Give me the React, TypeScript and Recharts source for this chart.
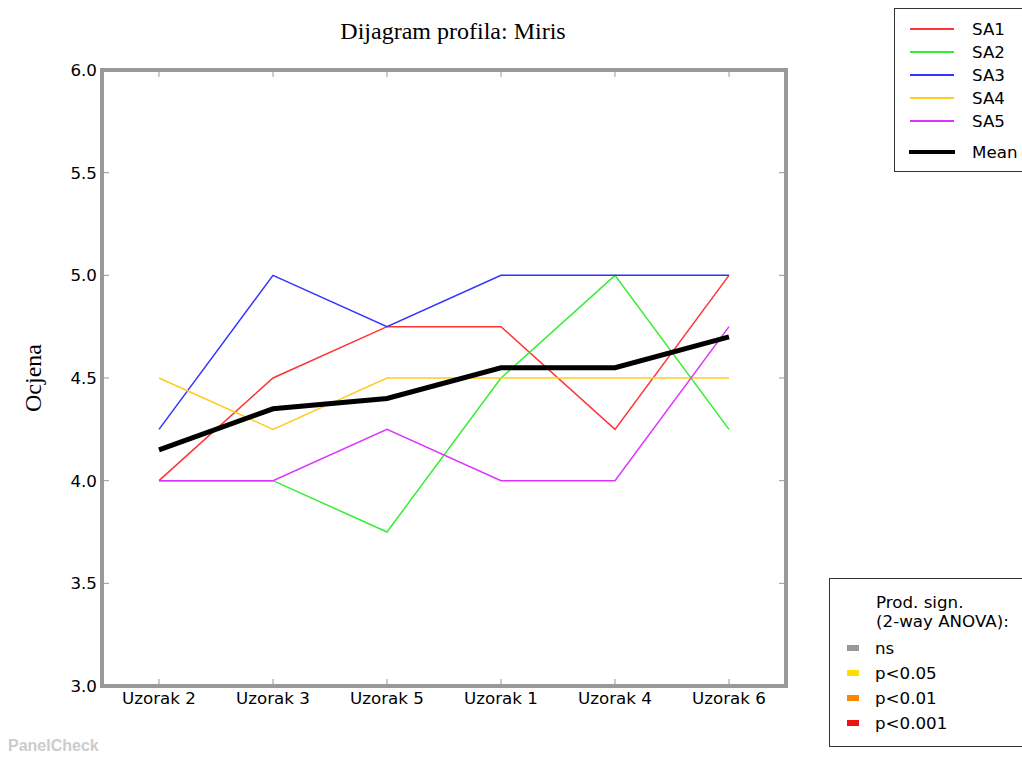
import { LineChart, Line, XAxis, YAxis } from 'recharts'

const categories = ['Uzorak 2', 'Uzorak 3', 'Uzorak 5', 'Uzorak 1', 'Uzorak 4', 'Uzorak 6']
const sa1 = [4.0, 4.5, 4.75, 4.75, 4.25, 5.0]
const sa2 = [4.0, 4.0, 3.75, 4.5, 5.0, 4.25]
const sa3 = [4.25, 5.0, 4.75, 5.0, 5.0, 5.0]
const sa4 = [4.5, 4.25, 4.5, 4.5, 4.5, 4.5]
const sa5 = [4.0, 4.0, 4.25, 4.0, 4.0, 4.75]
const mean = [4.15, 4.35, 4.4, 4.55, 4.55, 4.7]
const yTicks = [3.0, 3.5, 4.0, 4.5, 5.0, 5.5, 6.0]

const seriesNames = ['SA1', 'SA2', 'SA3', 'SA4', 'SA5']
const seriesColors = ['#ff3333', '#33ee33', '#3333ff', '#ffcc22', '#dd33ff']
const sigLabels = ['ns', 'p<0.05', 'p<0.01', 'p<0.001']
const sigColors = ['#999999', '#ffdd00', '#ff8800', '#ee1111']

const data = categories.map((c, i) => ({
  name: c,
  SA1: sa1[i],
  SA2: sa2[i],
  SA3: sa3[i],
  SA4: sa4[i],
  SA5: sa5[i],
  Mean: mean[i],
}))

const FRAME = '#999999'
const sans = '"DejaVu Sans", sans-serif'
const serif = '"Liberation Serif", "Times New Roman", serif'
const PAD = 57
const frameLine = { stroke: FRAME, strokeWidth: 4, strokeLinecap: 'square' as const }

const BottomTick = (props: any) => {
  const { x, y, payload } = props
  return (
    <g>
      <line x1={x} x2={x} y1={y - 2} y2={y - 7} stroke={FRAME} strokeWidth={1} />
      <text x={x} y={y + 18} textAnchor="middle" fontSize={16.7} fontFamily={sans} fill="#000">
        {payload.value}
      </text>
    </g>
  )
}

const TopTick = (props: any) => {
  const { x, y } = props
  return <line x1={x} x2={x} y1={y + 2} y2={y + 7} stroke={FRAME} strokeWidth={1} />
}

const LeftTick = (props: any) => {
  const { x, y, payload } = props
  return (
    <g>
      <line x1={x + 2} x2={x + 7} y1={y} y2={y} stroke={FRAME} strokeWidth={1} />
      <text x={x - 5} y={y + 6} textAnchor="end" fontSize={16.7} fontFamily={sans} fill="#000">
        {Number(payload.value).toFixed(1)}
      </text>
    </g>
  )
}

const RightTick = (props: any) => {
  const { x, y } = props
  return <line x1={x - 2} x2={x - 7} y1={y} y2={y} stroke={FRAME} strokeWidth={1} />
}

export default function App() {
  return (
    <div style={{ position: 'absolute', left: 0, top: 0, width: 1022, height: 760, overflow: 'hidden', background: '#fff', fontFamily: sans }}>
      <LineChart width={1022} height={760} data={data} margin={{ top: 60, right: 226, bottom: 44, left: 62 }}>
        <XAxis dataKey="name" height={30} padding={{ left: PAD, right: PAD }} axisLine={frameLine} tickLine={false} tickSize={0} tickMargin={0} tick={<BottomTick />} interval={0} />
        <XAxis xAxisId="top" dataKey="name" orientation="top" height={10} padding={{ left: PAD, right: PAD }} axisLine={frameLine} tickLine={false} tickSize={0} tickMargin={0} tick={<TopTick />} interval={0} />
        <YAxis domain={[3, 6]} ticks={yTicks} width={40} axisLine={frameLine} tickLine={false} tickSize={0} tickMargin={0} tick={<LeftTick />} interval={0} />
        <YAxis yAxisId="right" orientation="right" domain={[3, 6]} ticks={yTicks} width={10} axisLine={frameLine} tickLine={false} tickSize={0} tickMargin={0} tick={<RightTick />} interval={0} />
        {seriesNames.map((s, i) => (
          <Line key={s} dataKey={s} stroke={seriesColors[i]} strokeWidth={1.5} dot={false} isAnimationActive={false} />
        ))}
        <Line dataKey="Mean" stroke="#000" strokeWidth={5} dot={false} isAnimationActive={false} />
        <Line xAxisId="top" yAxisId="right" dataKey="Mean" stroke="none" dot={false} activeDot={false} legendType="none" isAnimationActive={false} />
      </LineChart>

      <div style={{ position: 'absolute', left: 0, width: 906, top: 16, textAlign: 'center', fontFamily: serif, fontSize: 24, lineHeight: '30px', color: '#000' }}>
        Dijagram profila: Miris
      </div>
      <div style={{ position: 'absolute', left: 33, top: 378, transform: 'translate(-50%, -50%) rotate(-90deg)', fontFamily: serif, fontSize: 24, lineHeight: '30px', whiteSpace: 'nowrap', color: '#000' }}>
        Ocjena
      </div>

      <div style={{ position: 'absolute', left: 894, top: 8, width: 160, height: 162, border: '1px solid #333', background: '#fff', fontSize: 16.7 }}>
        {seriesNames.map((s, i) => (
          <div key={s} style={{ position: 'absolute', left: 0, top: 9 + i * 23, height: 22, width: 160 }}>
            <div style={{ position: 'absolute', left: 15, top: 10, width: 44, height: 1.5, background: seriesColors[i] }} />
            <div style={{ position: 'absolute', left: 77, top: 0, lineHeight: '22px' }}>{s}</div>
          </div>
        ))}
        <div style={{ position: 'absolute', left: 0, top: 132, height: 22, width: 160 }}>
          <div style={{ position: 'absolute', left: 14, top: 9, width: 46, height: 4, background: '#000' }} />
          <div style={{ position: 'absolute', left: 77, top: 0, lineHeight: '22px' }}>Mean</div>
        </div>
      </div>

      <div style={{ position: 'absolute', left: 829, top: 578, width: 220, height: 167, border: '1px solid #333', background: '#fff', fontSize: 16.7 }}>
        <div style={{ position: 'absolute', left: 46, top: 14, lineHeight: '19px' }}>
          Prod. sign.
          <br />
          (2-way ANOVA):
        </div>
        {sigLabels.map((s, i) => (
          <div key={s} style={{ position: 'absolute', left: 0, top: 58 + i * 25, height: 22, width: 200 }}>
            <div style={{ position: 'absolute', left: 17, top: 8, width: 12, height: 6, background: sigColors[i] }} />
            <div style={{ position: 'absolute', left: 45, top: 0, lineHeight: '22px' }}>{s}</div>
          </div>
        ))}
      </div>

      <div style={{ position: 'absolute', left: 8, top: 737, fontFamily: '"Liberation Sans", Arial, sans-serif', fontWeight: 'bold', fontSize: 16, color: '#cccccc' }}>
        PanelCheck
      </div>
    </div>
  )
}
